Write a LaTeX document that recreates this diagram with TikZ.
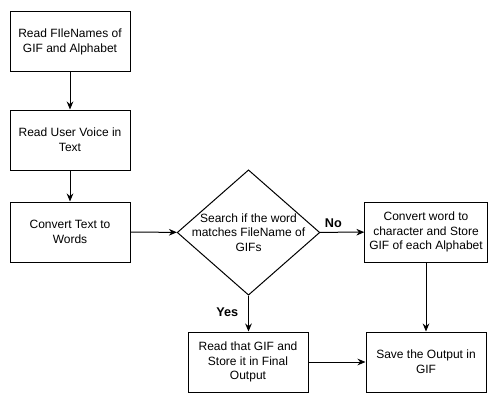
\documentclass[tikz,border=0pt]{standalone}
\usepackage{fontspec}
\setmainfont{Liberation Sans}
\usetikzlibrary{arrows.meta,shapes.geometric}

\begin{document}
\begin{tikzpicture}[%
    x=0.75pt, y=-0.75pt,
    every node/.style={
        font=\fontsize{9}{11}\selectfont,
        },
    stepbox/.style={
        draw,
        rectangle,
        line width=0.75pt,
        minimum width = 90pt,
        minimum height = 45pt,
        align = center,
        anchor = center,
        },
    decision/.style={
        draw,
        diamond,
        line width=0.75pt,
        minimum width = 107pt,
        minimum height = 94pt,
        inner sep = 0pt,
        },
    flow/.style={
        -{Stealth[length=6pt, width=5pt]},
        line width=0.75pt,
        },
    answer/.style={
        font=\fontsize{9.5}{11}\selectfont\bfseries,
        },
]

\useasboundingbox (0,0) rectangle (496,403);

% left column
\node[stepbox] (filenames) at (70,42)  {Read FIleNames of\\GIF and Alphabet};
\node[stepbox] (voice)     at (70,140) {Read User Voice in\\Text};
\node[stepbox] (words)     at (70,232) {Convert Text to\\Words};

% decision
\node[decision] (search) at (248.5,232.5) {};
\node[align=center] (searchtext) at (search.center)
    {Search if the word\\matches FileName of\\GIFs};

% right part
\node[stepbox] (letters)  at (426,232) {Convert word to\\character and Store\\GIF of each Alphabet};
\node[stepbox] (readgif)  at (248,362) {Read that GIF and\\Store it in Final\\Output};
\node[stepbox] (save)     at (426,362) {Save the Output in\\GIF};

% connectors
\draw[flow] (filenames) -- (voice);
\draw[flow] (voice) -- (words);
\draw[flow] (words) -- (search);
\draw[flow] (search) -- node[answer, above, pos=0.3] (no) {No} (letters);
\draw[flow] (search.south) -- node[answer, left, pos=0.45, xshift=-4pt] (yes) {Yes} (readgif.north -| search.south);
\draw[flow] (letters) -- (save);
\draw[flow] (readgif) -- (save);

\end{tikzpicture}
\end{document}
